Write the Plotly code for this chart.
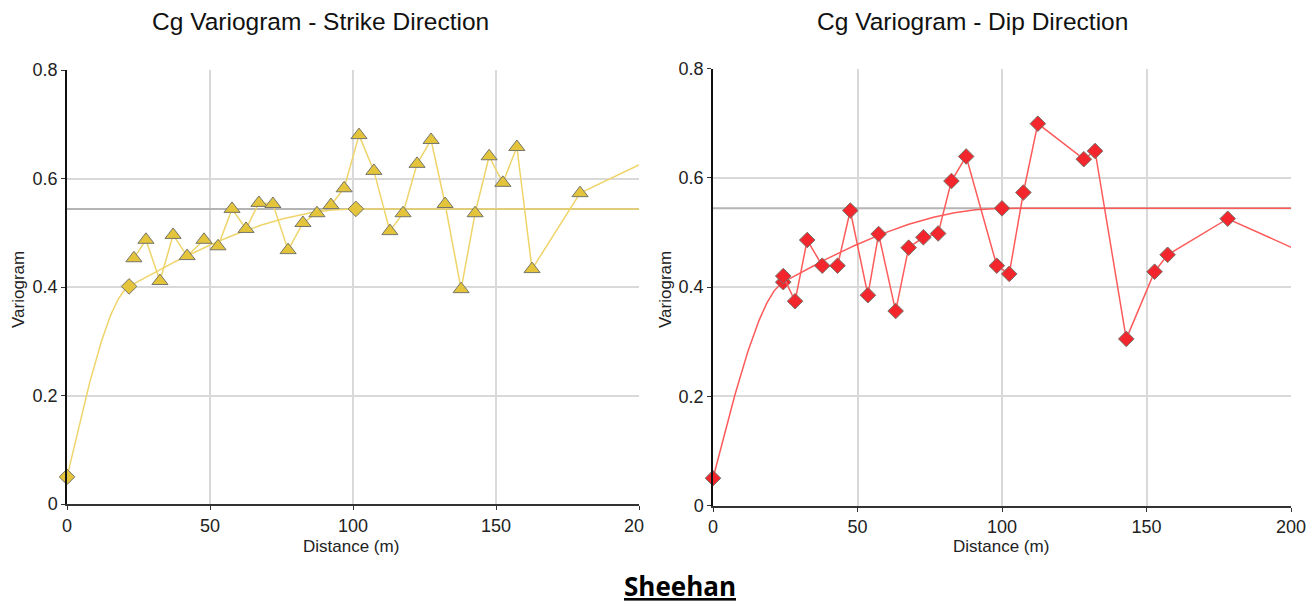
import numpy as np
import plotly.graph_objects as go

# ---- experimental variogram, strike direction ----
strike_lag = [23.4, 27.6, 32.5, 37.1, 42.0, 47.9, 52.8, 57.7, 62.6, 67.1,
              72.0, 77.3, 82.5, 87.4, 92.3, 96.9, 102.1, 107.3, 112.9, 117.5,
              122.4, 127.3, 132.2, 137.8, 142.7, 147.6, 152.4, 157.3, 162.6, 179.4,
              215.0]
strike_gamma = [0.453, 0.487, 0.411, 0.496, 0.457, 0.487, 0.475, 0.544, 0.507, 0.555,
                0.553, 0.468, 0.518, 0.536, 0.551, 0.582, 0.680, 0.614, 0.503, 0.536,
                0.627, 0.671, 0.553, 0.396, 0.536, 0.641, 0.592, 0.658, 0.433, 0.573,
                0.663]

# ---- experimental variogram, dip direction ----
dip_lag = [24.3, 28.4, 32.6, 37.8, 43.1, 47.5, 53.6, 57.3, 63.2, 67.7,
           72.8, 77.9, 82.5, 87.6, 98.2, 102.5, 107.4, 112.4, 128.3, 132.2,
           143.0, 152.8, 157.3, 178.1, 215.0]
dip_gamma = [0.420, 0.374, 0.486, 0.439, 0.439, 0.540, 0.385, 0.497, 0.356, 0.472,
             0.491, 0.498, 0.594, 0.639, 0.439, 0.424, 0.573, 0.699, 0.634, 0.649,
             0.305, 0.428, 0.459, 0.525, 0.437]

# ---- nested spherical models: nugget + two structures ----
strike_model = dict(nugget=0.05, c1=0.2847, a1=21.7, c2=0.2093, a2=101.0)
dip_model = dict(nugget=0.05, c1=0.2838, a1=24.3, c2=0.2102, a2=100.0)

x_ticks = [0, 50, 100, 150, 200]
# last strike label is clipped at the panel edge ("20" + figure space)
strike_x_labels = ["0", "50", "100", "150", "20\u2007"]
dip_x_labels = ["0", "50", "100", "150", "200"]
y_ticks = [0, 0.2, 0.4, 0.6, 0.8]
y_labels = ["0", "0.2", "0.4", "0.6", "0.8"]


def sph(h, a):
    r = np.clip(np.asarray(h, dtype=float) / a, 0, 1)
    return 1.5 * r - 0.5 * r ** 3


def model_gamma(h, m):
    return m["nugget"] + m["c1"] * sph(h, m["a1"]) + m["c2"] * sph(h, m["a2"])


W, H = 1309, 606
FONT = "Liberation Sans, Arial, sans-serif"
TICK_FONT = "Liberation Sans Narrow, Arial Narrow, Liberation Sans, sans-serif"

YELLOW_FILL = "#E3C43A"
YELLOW_LINE = "#EFD46A"
RED_FILL = "#F2262C"
RED_LINE = "#FF5A5A"
MARKER_EDGE = "#75756C"
GRID = "#D9D9D9"
SILL = "#B4B4B4"

panels = [
    dict(xa="x", ya="y", lag=strike_lag, gamma=strike_gamma, model=strike_model,
         fill=YELLOW_FILL, line=YELLOW_LINE, symbol="triangle-up", msize=14,
         dom_x=(67, 639), dom_y=(70, 504), labels=strike_x_labels,
         title="Cg Variogram - Strike Direction"),
    dict(xa="x2", ya="y2", lag=dip_lag, gamma=dip_gamma, model=dip_model,
         fill=RED_FILL, line=RED_LINE, symbol="diamond", msize=12,
         dom_x=(713, 1291), dom_y=(68.5, 505.5), labels=dip_x_labels,
         title="Cg Variogram - Dip Direction"),
]

fig = go.Figure()
h_curve = np.linspace(0, 200, 801)

for p in panels:
    m = p["model"]
    sill = m["nugget"] + m["c1"] + m["c2"]
    # total sill reference line
    fig.add_trace(go.Scatter(x=[0, 200], y=[sill, sill], mode="lines",
                             line=dict(color=SILL, width=2),
                             xaxis=p["xa"], yaxis=p["ya"], hoverinfo="skip",
                             showlegend=False))
    # fitted model curve
    fig.add_trace(go.Scatter(x=h_curve, y=model_gamma(h_curve, m), mode="lines",
                             line=dict(color=p["line"], width=1.5),
                             xaxis=p["xa"], yaxis=p["ya"], showlegend=False))
    # model control points: nugget, first range, second range
    ctrl_h = np.array([0.0, m["a1"], m["a2"]])
    fig.add_trace(go.Scatter(x=ctrl_h, y=model_gamma(ctrl_h, m), mode="markers",
                             marker=dict(symbol="diamond", size=12, color=p["fill"],
                                         line=dict(color=MARKER_EDGE, width=1)),
                             cliponaxis=False,
                             xaxis=p["xa"], yaxis=p["ya"], showlegend=False))
    # experimental points
    fig.add_trace(go.Scatter(x=p["lag"], y=p["gamma"], mode="lines+markers",
                             line=dict(color=p["line"], width=1.5),
                             marker=dict(symbol=p["symbol"], size=p["msize"],
                                         color=p["fill"],
                                         line=dict(color=MARKER_EDGE, width=1)),
                             xaxis=p["xa"], yaxis=p["ya"], showlegend=False))

layout_axes = {}
for i, p in enumerate(panels):
    sfx = "" if i == 0 else str(i + 1)
    x0, x1 = p["dom_x"]
    y0, y1 = p["dom_y"]
    layout_axes["xaxis" + sfx] = dict(
        domain=[x0 / W, x1 / W], range=[0, 200], anchor=p["ya"],
        tickvals=x_ticks, ticktext=p["labels"], automargin=False,
        showgrid=True, gridcolor=GRID, gridwidth=2,
        showline=True, linecolor="#333333", linewidth=2,
        ticks="outside", ticklen=4, tickcolor="#333333", tickwidth=1,
        tickfont=dict(family=TICK_FONT, size=18, color="#222222"),
        zeroline=False, fixedrange=True,
    )
    layout_axes["yaxis" + sfx] = dict(
        domain=[1 - y1 / H, 1 - y0 / H], range=[0, 0.8], anchor=p["xa"],
        tickvals=y_ticks, ticktext=y_labels, automargin=False,
        showgrid=True, gridcolor=GRID, gridwidth=2,
        showline=True, linecolor="#111111", linewidth=1.5,
        ticks="outside", ticklen=4, tickcolor="#333333", tickwidth=1,
        tickfont=dict(family=TICK_FONT, size=18, color="#222222"),
        zeroline=False, fixedrange=True,
    )

annotations = []
for p, tx, dx_lbl, vy_x in [(panels[0], 320, 351, 18), (panels[1], 972, 1001, 665)]:
    annotations.append(dict(text=p["title"], x=tx / W, y=1 - 21 / H, xref="paper",
                            yref="paper", showarrow=False, xanchor="center",
                            yanchor="middle",
                            font=dict(family=FONT, size=24.5, color="#111111")))
    annotations.append(dict(text="Distance (m)", x=dx_lbl / W, y=1 - 546 / H,
                            xref="paper", yref="paper", showarrow=False,
                            xanchor="center", yanchor="middle",
                            font=dict(family=FONT, size=17, color="#222222")))
    annotations.append(dict(text="Variogram", x=vy_x / W, y=1 - 290 / H,
                            xref="paper", yref="paper", showarrow=False,
                            textangle=-90, xanchor="center", yanchor="middle",
                            font=dict(family=FONT, size=17, color="#222222")))

annotations.append(dict(text="<b><u>Sheehan</u></b>", x=680 / W, y=1 - 586 / H,
                        xref="paper", yref="paper", showarrow=False,
                        xanchor="center", yanchor="middle",
                        font=dict(family="Open Sans, sans-serif", size=26,
                                  color="#000000")))

fig.update_layout(
    width=W, height=H,
    margin=dict(l=0, r=0, t=0, b=0),
    paper_bgcolor="white", plot_bgcolor="white",
    annotations=annotations,
    **layout_axes,
)

fig.write_html("out.html", config={"displayModeBar": False})
